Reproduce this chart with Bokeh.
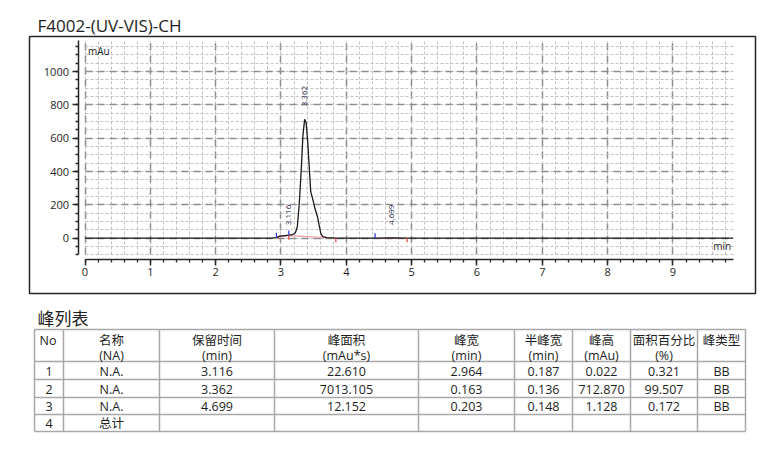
import numpy as np
from bokeh.plotting import figure
from bokeh.models import Range1d, SingleIntervalTicker, Label, ColumnDataSource
from bokeh.embed import file_html
from bokeh.resources import INLINE
from bokeh.core.properties import value

# ---------------- data ----------------
title_text = "F4002-(UV-VIS)-CH"
x_unit = "min"
y_unit = "mAu"

time_min = [0.0, 1.0, 2.0, 2.85, 2.93, 2.98, 3.05, 3.12, 3.18, 3.22, 3.25, 3.28, 3.31,
            3.335, 3.362, 3.385, 3.41, 3.435, 3.455, 3.49, 3.52, 3.56, 3.59, 3.61,
            3.64, 3.70, 3.84, 4.5, 4.7, 4.9, 6.0, 8.0, 9.92]
signal_mau = [0.0, 0.0, 0.5, 1.0, 3.0, 12.0, 16.0, 18.0, 22.0, 33.0, 67.0, 208.0, 410.0,
              612.0, 712.87, 693.0, 572.0, 410.0, 279.0, 228.0, 178.0, 127.0, 67.0, 27.0,
              10.0, 4.0, 1.0, 0.5, 1.6, 0.5, 0.3, 0.2, 0.2]

peak_labels = ["3.116", "3.362", "4.699"]
peak_rt = [3.116, 3.362, 4.699]
peak_height = [0.022, 712.870, 1.128]
peak_start = [2.93, 3.12, 4.44]
peak_end = [3.12, 3.84, 4.93]
base_start_level = [2.0, 16.0, 0.0]
base_end_level = [16.0, 0.0, 0.0]

table_title = "峰列表"
header_line1 = ["No", "名称", "保留时间", "峰面积", "峰宽", "半峰宽", "峰高", "面积百分比", "峰类型"]
header_line2 = ["", "(NA)", "(min)", "(mAu*s)", "(min)", "(min)", "(mAu)", "(%)", ""]
col_no = ["1", "2", "3", "4"]
col_name = ["N.A.", "N.A.", "N.A.", "总计"]
col_rt = ["3.116", "3.362", "4.699", ""]
col_area = ["22.610", "7013.105", "12.152", ""]
col_width = ["2.964", "0.163", "0.203", ""]
col_half = ["0.187", "0.136", "0.148", ""]
col_height = ["0.022", "712.870", "1.128", ""]
col_pct = ["0.321", "99.507", "0.172", ""]
col_type = ["BB", "BB", "BB", ""]

# ---------------- layout constants (page pixels; Bokeh page has no body margin) ----------------
PAGE_L, PAGE_T = 0, 0
FIG_W, FIG_H = 763, 445
BOX_L, BOX_T, BOX_R, BOX_B = 29, 36, 755, 293
X0_PX, PX_PER_MIN = 84.5, 65.33
Y0_PX, PX_PER_MAU = 237.7, 0.1667
X_END = 9.92
Y_LO, Y_HI = -100, 1185

x_start = (PAGE_L - X0_PX) / PX_PER_MIN
x_end = (PAGE_L + FIG_W - X0_PX) / PX_PER_MIN
y_end = (Y0_PX - PAGE_T) / PX_PER_MAU
y_start = (Y0_PX - (PAGE_T + FIG_H)) / PX_PER_MAU

FONT = "Open Sans"
TXT = "#1e1e1e"

p = figure(width=FIG_W, height=FIG_H, output_backend="svg", toolbar_location=None,
           x_range=Range1d(x_start, x_end), y_range=Range1d(y_start, y_end),
           min_border=0, title=None)
p.outline_line_color = None
p.background_fill_color = "white"
p.border_fill_color = "white"
p.extra_x_ranges = {"px": Range1d(PAGE_L, PAGE_L + FIG_W)}
p.extra_y_ranges = {"px": Range1d(PAGE_T + FIG_H, PAGE_T)}

xt = SingleIntervalTicker(interval=1, num_minor_ticks=5)
yt = SingleIntervalTicker(interval=200, num_minor_ticks=4)

xax = p.xaxis[0]
xax.ticker = xt
xax.bounds = (0, X_END)
xax.fixed_location = (Y0_PX - 258.5) / PX_PER_MAU
yax = p.yaxis[0]
yax.ticker = yt
yax.bounds = (Y_LO, Y_HI)
yax.fixed_location = (77.5 - X0_PX) / PX_PER_MIN

for ax in (xax, yax):
    ax.axis_line_color = "#262626"
    ax.axis_line_width = 1.5
    ax.major_tick_line_color = "#262626"
    ax.major_tick_line_width = 1.5
    ax.minor_tick_line_color = "#262626"
    ax.minor_tick_line_width = 1.3
    ax.major_tick_in = 0
    ax.major_tick_out = 6
    ax.minor_tick_in = 0
    ax.minor_tick_out = 3
    ax.major_label_text_font = FONT
    ax.major_label_text_font_size = "11px"
    ax.major_label_text_color = TXT
    ax.major_label_standoff = 3

xg = p.xgrid[0]
xg.ticker = xt
xg.bounds = (0, X_END)
xg.cross_bounds = (Y_LO, Y_HI)
yg = p.ygrid[0]
yg.ticker = yt
yg.bounds = (Y_LO, Y_HI)
yg.cross_bounds = (0, X_END)
for g in (xg, yg):
    g.grid_line_color = "#8e8e8e"
    g.grid_line_width = 1.5
    g.grid_line_dash = "7 5"
    g.minor_grid_line_color = "#c2c2c2"
    g.minor_grid_line_width = 1
    g.minor_grid_line_dash = "3 2"

# title and frame box (page-pixel coordinates)
p.text(x=[37], y=[25], text=[title_text], x_range_name="px", y_range_name="px",
       text_font=value(FONT), text_font_size="17px", text_baseline="alphabetic",
       text_align="left", text_color=TXT)
p.quad(left=[BOX_L], right=[BOX_R], top=[BOX_T], bottom=[BOX_B], x_range_name="px",
       y_range_name="px", fill_color=None, line_color="#262626", line_width=1.5)

# integration baselines
p.segment(x0=peak_start, y0=base_start_level, x1=peak_end, y1=base_end_level,
          line_color="#f2a0a8", line_width=1.2)
# chromatogram
p.line(time_min, signal_mau, line_color="#1a1a1a", line_width=1.3)
# start / end markers
p.segment(x0=peak_start, x1=peak_start, y0=base_start_level,
          y1=[v + 30 for v in base_start_level], line_color="#3a3ae0", line_width=1.3)
p.segment(x0=peak_end, x1=peak_end, y0=base_end_level,
          y1=[v - 25 for v in base_end_level], line_color="#e84a4a", line_width=1.3)

lbl_src = ColumnDataSource(dict(x=peak_rt, y=peak_height, t=peak_labels))
p.text(x="x", y="y", text="t", source=lbl_src, angle=np.pi / 2, y_offset=-13,
       text_align="left", text_baseline="middle", text_font=value(FONT),
       text_font_size="8px", text_color="#20203a")

p.add_layout(Label(x=0, y=Y_HI, text=y_unit, x_offset=3, y_offset=-3,
                   text_baseline="top", text_align="left", text_font=FONT,
                   text_font_size="10px", text_color=TXT))
p.add_layout(Label(x=X_END, y=Y_LO, text=x_unit, x_offset=-2, y_offset=2,
                   text_baseline="bottom", text_align="right", text_font=FONT,
                   text_font_size="10px", text_color=TXT))

# ---------------- table (page-pixel coordinates) ----------------
col_edges = [34, 63, 159, 274, 418, 514, 572, 630, 697, 745]
row_edges = [329, 361, 379, 397, 414, 431]
LINE = "#a8a8a8"
p.segment(x0=[col_edges[0]] * len(row_edges), x1=[col_edges[-1]] * len(row_edges),
          y0=row_edges, y1=row_edges, line_color=LINE, line_width=1.5,
          x_range_name="px", y_range_name="px")
p.segment(x0=col_edges, x1=col_edges, y0=[row_edges[0]] * len(col_edges),
          y1=[row_edges[-1]] * len(col_edges), line_color=LINE, line_width=1.5,
          x_range_name="px", y_range_name="px")

TFONT = value("Open Sans, Noto Sans CJK SC")
p.text(x=[37], y=[317], text=[table_title], text_font=value("Noto Sans CJK SC"),
       text_font_size="17px", text_baseline="middle", text_align="left", text_color=TXT,
       x_range_name="px", y_range_name="px")

centers = [(col_edges[i] + col_edges[i + 1]) / 2 for i in range(len(col_edges) - 1)]
hx = [39] + centers[1:]
halign = ["left"] + ["center"] * (len(centers) - 1)
p.text(x=hx, y=[340] * len(hx), text=header_line1, text_align=halign,
       text_baseline="middle", text_font=TFONT, text_font_size="12.5px", text_color=TXT,
       x_range_name="px", y_range_name="px")
p.text(x=centers, y=[355] * len(centers), text=header_line2, text_align="center",
       text_baseline="middle", text_font=TFONT, text_font_size="12.5px", text_color=TXT,
       x_range_name="px", y_range_name="px")

columns = [col_no, col_name, col_rt, col_area, col_width, col_half, col_height, col_pct, col_type]
rx, ry, rt = [], [], []
for ci, col in enumerate(columns):
    for ri, val in enumerate(col):
        rx.append(centers[ci])
        ry.append((row_edges[ri + 1] + row_edges[ri + 2]) / 2 + 0.5)
        rt.append(val)
p.text(x=rx, y=ry, text=rt, text_align="center", text_baseline="middle",
       text_font=TFONT, text_font_size="12.5px", text_color=TXT,
       x_range_name="px", y_range_name="px")

open("out.html", "w").write(file_html(p, INLINE))
